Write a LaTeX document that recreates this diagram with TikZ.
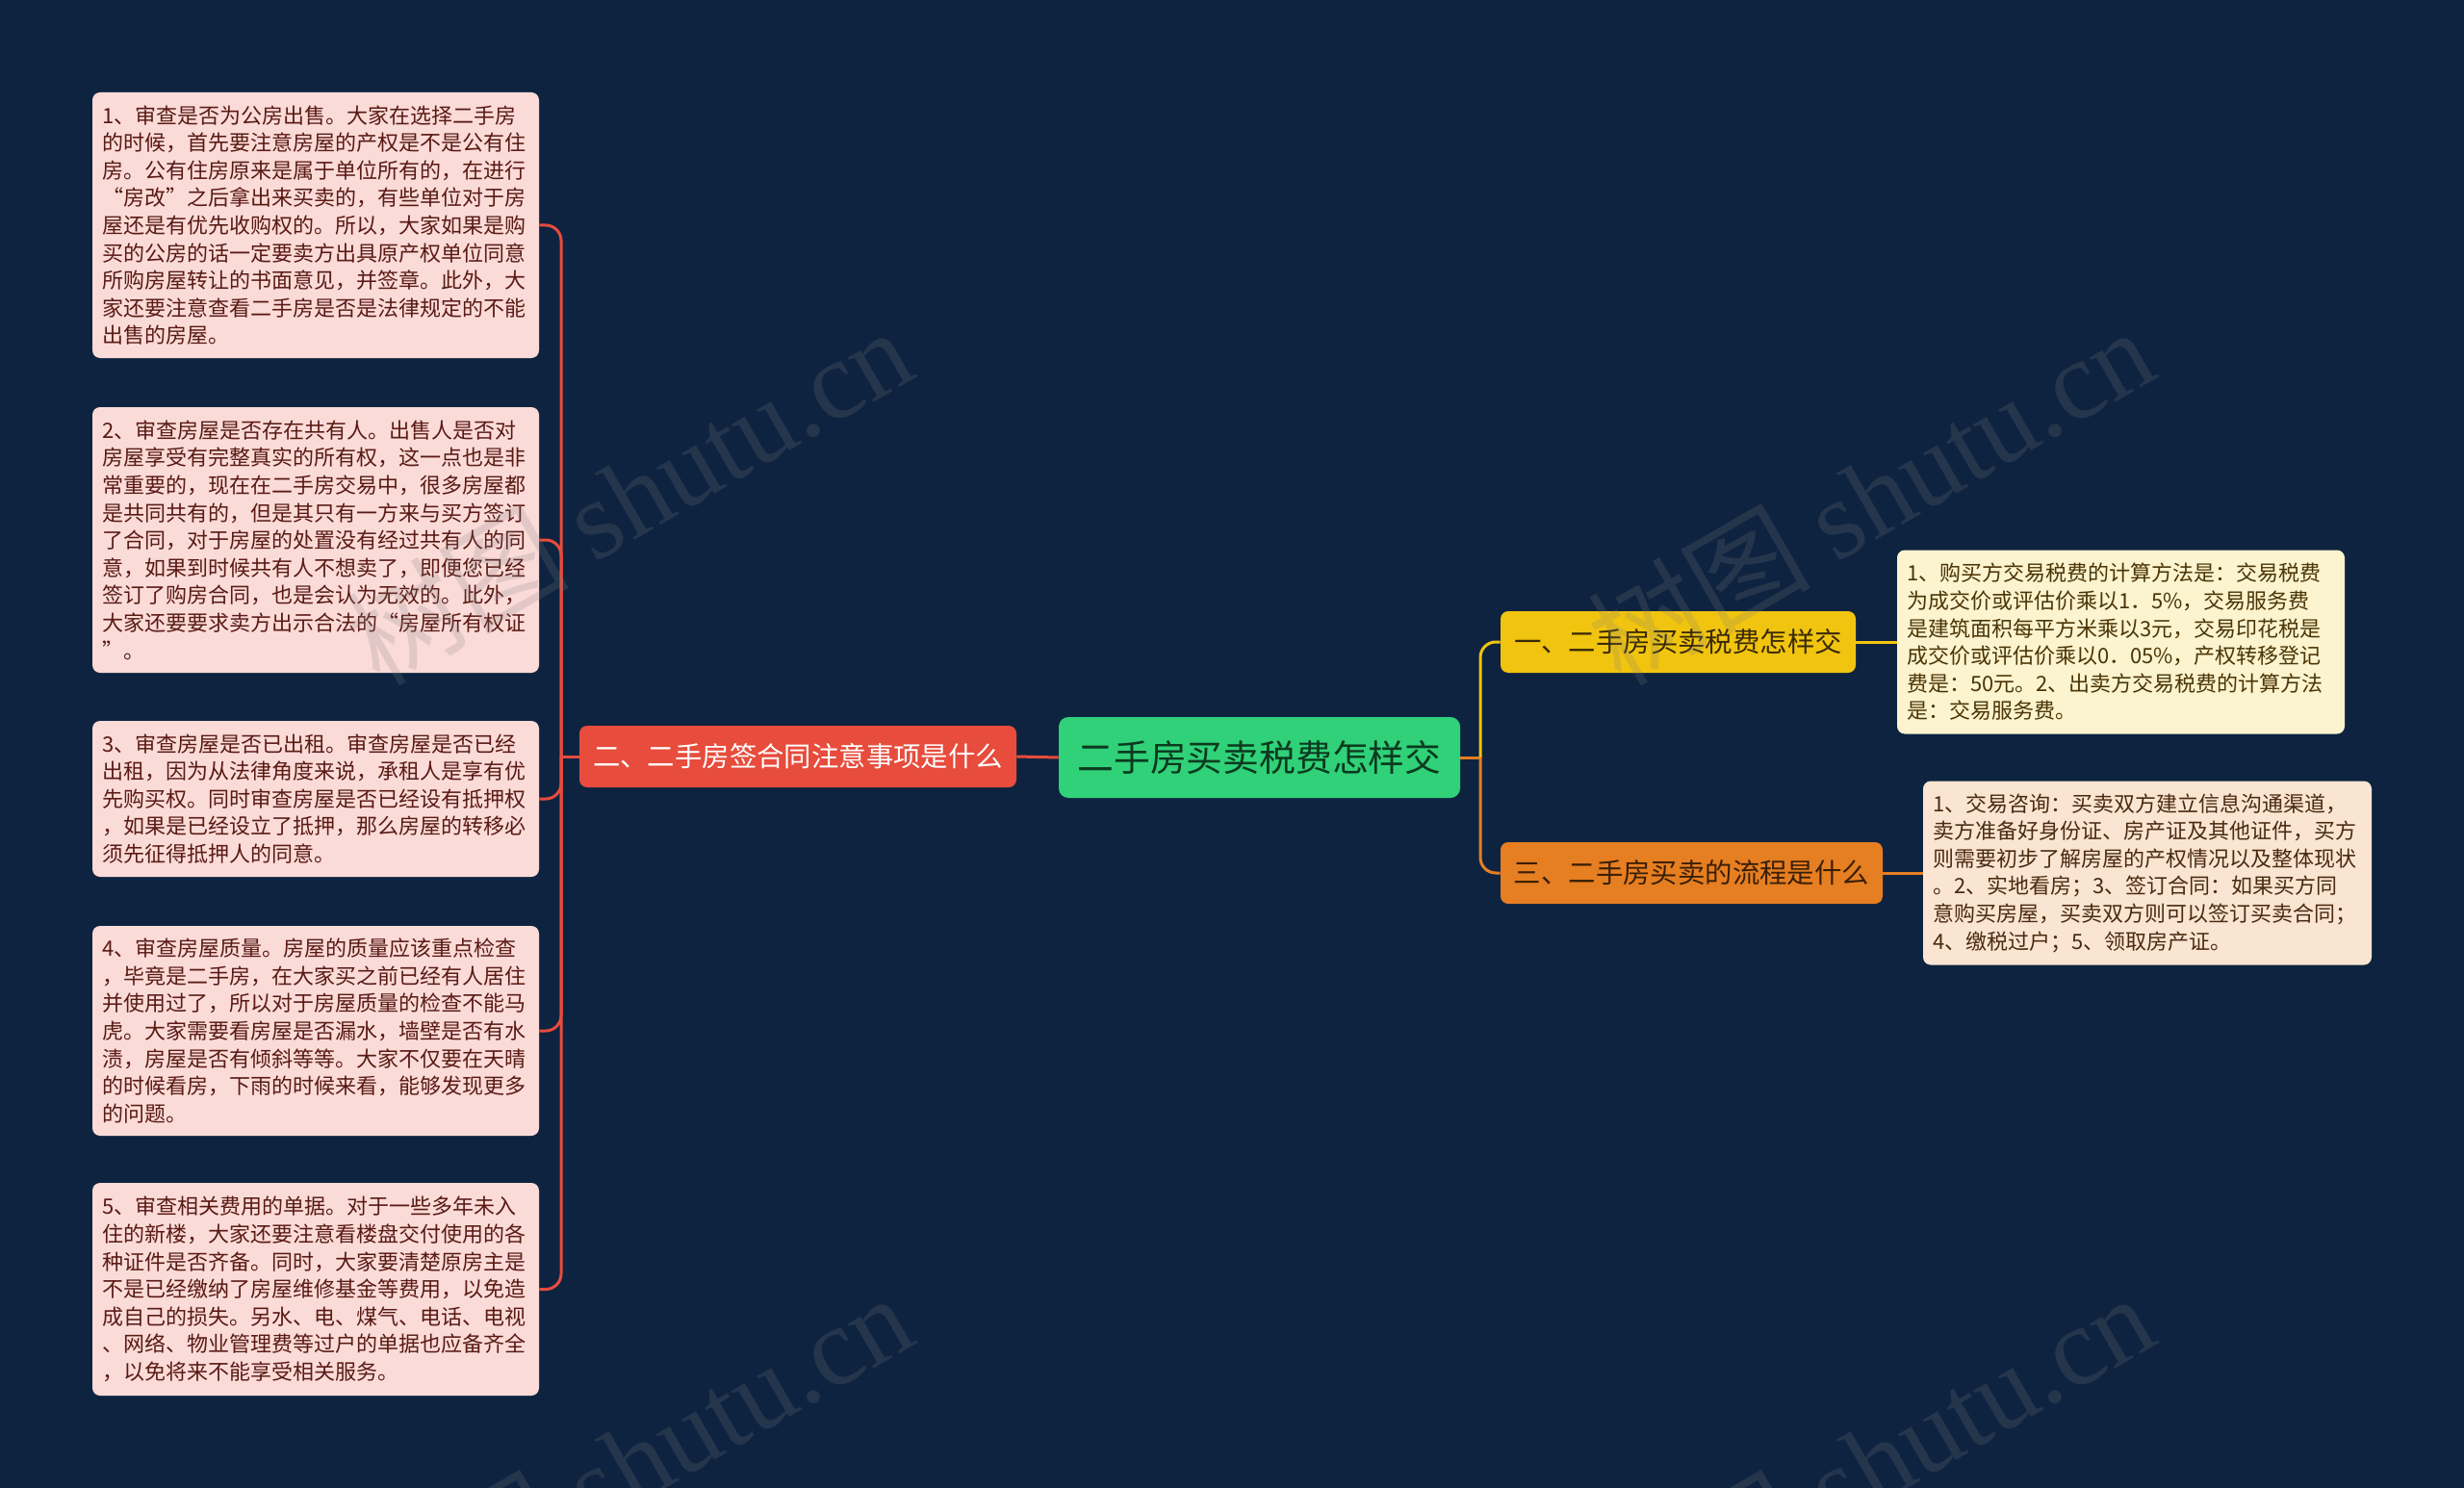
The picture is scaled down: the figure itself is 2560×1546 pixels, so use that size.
\documentclass[tikz,border=0pt]{standalone}
\usepackage{fontspec}
\setmainfont{Noto Sans CJK SC}
\newfontfamily\wmlatin{Liberation Serif}
\definecolor{bgc}{HTML}{0E2340}
\definecolor{cgreen}{HTML}{30D178}
\definecolor{cgreentxt}{HTML}{0B3A1F}
\definecolor{cred}{HTML}{E74C3C}
\definecolor{cyellow}{HTML}{F1C40F}
\definecolor{cyellowtxt}{HTML}{3A2A05}
\definecolor{corange}{HTML}{E67E22}
\definecolor{corangetxt}{HTML}{3A1F05}
\definecolor{pinkfill}{HTML}{FADBD8}
\definecolor{pinktxt}{HTML}{5A1A14}
\definecolor{creamfill}{HTML}{FCF3CF}
\definecolor{creamtxt}{HTML}{4A3505}
\definecolor{peachfill}{HTML}{FAE5D3}
\definecolor{peachtxt}{HTML}{4A2A10}
\begin{document}
\begin{tikzpicture}[x=0.5pt,y=-0.5pt,
  leaf/.style={rounded corners=4pt, minimum width=232pt, text width=222pt,
    inner xsep=5pt, inner ysep=0pt, align=left,
    font=\fontsize{11pt}{14.3pt}\selectfont},
  topic/.style={rounded corners=4pt, minimum height=32pt, inner xsep=0pt, inner ysep=0pt,
    font=\fontsize{14.2pt}{16pt}\selectfont},
  redline/.style={draw=cred, line width=1.5pt},
  yelline/.style={draw=cyellow, line width=1.5pt},
  oraline/.style={draw=corange, line width=1.5pt},
  watermark/.style={rotate=30, text=gray, opacity=0.2, font=\fontsize{58pt}{60pt}\selectfont}]
\useasboundingbox (0,0) rectangle (2560,1546);
\fill[bgc] (0,0) rectangle (2560,1546);

% central
\node[rounded corners=5pt, fill=cgreen, text=cgreentxt, minimum width=208.5pt, minimum height=42pt,
  inner sep=0pt, font=\fontsize{18.9pt}{20pt}\selectfont] (C) at (1308.5,787) {二手房买卖税费怎样交};

% main topics
\node[topic, fill=cred, text=white, minimum width=227pt] (R) at (829,786) {二、二手房签合同注意事项是什么};
\node[topic, fill=cyellow, text=cyellowtxt, minimum width=184.5pt] (Y) at (1743.5,667) {一、二手房买卖税费怎样交};
\node[topic, fill=corange, text=corangetxt, minimum width=198.5pt] (O) at (1757.5,907) {三、二手房买卖的流程是什么};

% left leaves
\node[leaf, fill=pinkfill, text=pinktxt, minimum height=138pt] (L1) at (328,234) {1、审查是否为公房出售。大家在选择二手房\\
的时候，首先要注意房屋的产权是不是公有住\\
房。公有住房原来是属于单位所有的，在进行\\
“房改”之后拿出来买卖的，有些单位对于房\\
屋还是有优先收购权的。所以，大家如果是购\\
买的公房的话一定要卖方出具原产权单位同意\\
所购房屋转让的书面意见，并签章。此外，大\\
家还要注意查看二手房是否是法律规定的不能\\
出售的房屋。};

\node[leaf, fill=pinkfill, text=pinktxt, minimum height=138pt] (L2) at (328,561) {2、审查房屋是否存在共有人。出售人是否对\\
房屋享受有完整真实的所有权，这一点也是非\\
常重要的，现在在二手房交易中，很多房屋都\\
是共同共有的，但是其只有一方来与买方签订\\
了合同，对于房屋的处置没有经过共有人的同\\
意，如果到时候共有人不想卖了，即便您已经\\
签订了购房合同，也是会认为无效的。此外，\\
大家还要要求卖方出示合法的“房屋所有权证\\
”。};

\node[leaf, fill=pinkfill, text=pinktxt, minimum height=81pt] (L3) at (328,830) {3、审查房屋是否已出租。审查房屋是否已经\\
出租，因为从法律角度来说，承租人是享有优\\
先购买权。同时审查房屋是否已经设有抵押权\\
，如果是已经设立了抵押，那么房屋的转移必\\
须先征得抵押人的同意。};

\node[leaf, fill=pinkfill, text=pinktxt, minimum height=109pt] (L4) at (328,1071) {4、审查房屋质量。房屋的质量应该重点检查\\
，毕竟是二手房，在大家买之前已经有人居住\\
并使用过了，所以对于房屋质量的检查不能马\\
虎。大家需要看房屋是否漏水，墙壁是否有水\\
渍，房屋是否有倾斜等等。大家不仅要在天晴\\
的时候看房，下雨的时候来看，能够发现更多\\
的问题。};

\node[leaf, fill=pinkfill, text=pinktxt, minimum height=110.5pt] (L5) at (328,1339.5) {5、审查相关费用的单据。对于一些多年未入\\
住的新楼，大家还要注意看楼盘交付使用的各\\
种证件是否齐备。同时，大家要清楚原房主是\\
不是已经缴纳了房屋维修基金等费用，以免造\\
成自己的损失。另水、电、煤气、电话、电视\\
、网络、物业管理费等过户的单据也应备齐全\\
，以免将来不能享受相关服务。};

% right leaves
\node[leaf, fill=creamfill, text=creamtxt, minimum width=232.5pt, text width=222.5pt, minimum height=95.5pt] (T1) at (2203.5,667) {1、购买方交易税费的计算方法是：交易税费\\
为成交价或评估价乘以1．5\%，交易服务费\\
是建筑面积每平方米乘以3元，交易印花税是\\
成交价或评估价乘以0．05\%，产权转移登记\\
费是：50元。2、出卖方交易税费的计算方法\\
是：交易服务费。};

\node[leaf, fill=peachfill, text=peachtxt, minimum width=233pt, text width=223pt, minimum height=95.5pt] (T2) at (2231,907) {1、交易咨询：买卖双方建立信息沟通渠道，\\
卖方准备好身份证、房产证及其他证件，买方\\
则需要初步了解房屋的产权情况以及整体现状\\
。2、实地看房；3、签订合同：如果买方同\\
意购买房屋，买卖双方则可以签订买卖合同；\\
4、缴税过户；5、领取房产证。};

% connectors
\coordinate (tl) at (583,786);
\coordinate (tr) at (1538,787);
\draw[redline] (C.west) -- (R.east);
\draw[redline] (R.west) -- (tl);
\foreach \n in {L1,L2,L3,L4,L5} {
  \draw[redline, rounded corners=8pt] (tl) |- (\n.east);
}
\draw[oraline] (C.east) -- (tr);
\draw[yelline, rounded corners=8pt] (tr) |- (Y.west);
\draw[oraline, rounded corners=8pt] (tr) |- (O.west);
\draw[yelline] (Y.east) -- (T1.west);
\draw[oraline] (O.east) -- (T2.west);

% watermarks
\node[watermark] (w1) at (653,514) {树图 {\wmlatin shutu.cn}};
\node[watermark] (w2) at (1943,514) {树图 {\wmlatin shutu.cn}};
\node[watermark] (w3) at (653,1518) {树图 {\wmlatin shutu.cn}};
\node[watermark] (w4) at (1943,1518) {树图 {\wmlatin shutu.cn}};
\end{tikzpicture}
\end{document}
